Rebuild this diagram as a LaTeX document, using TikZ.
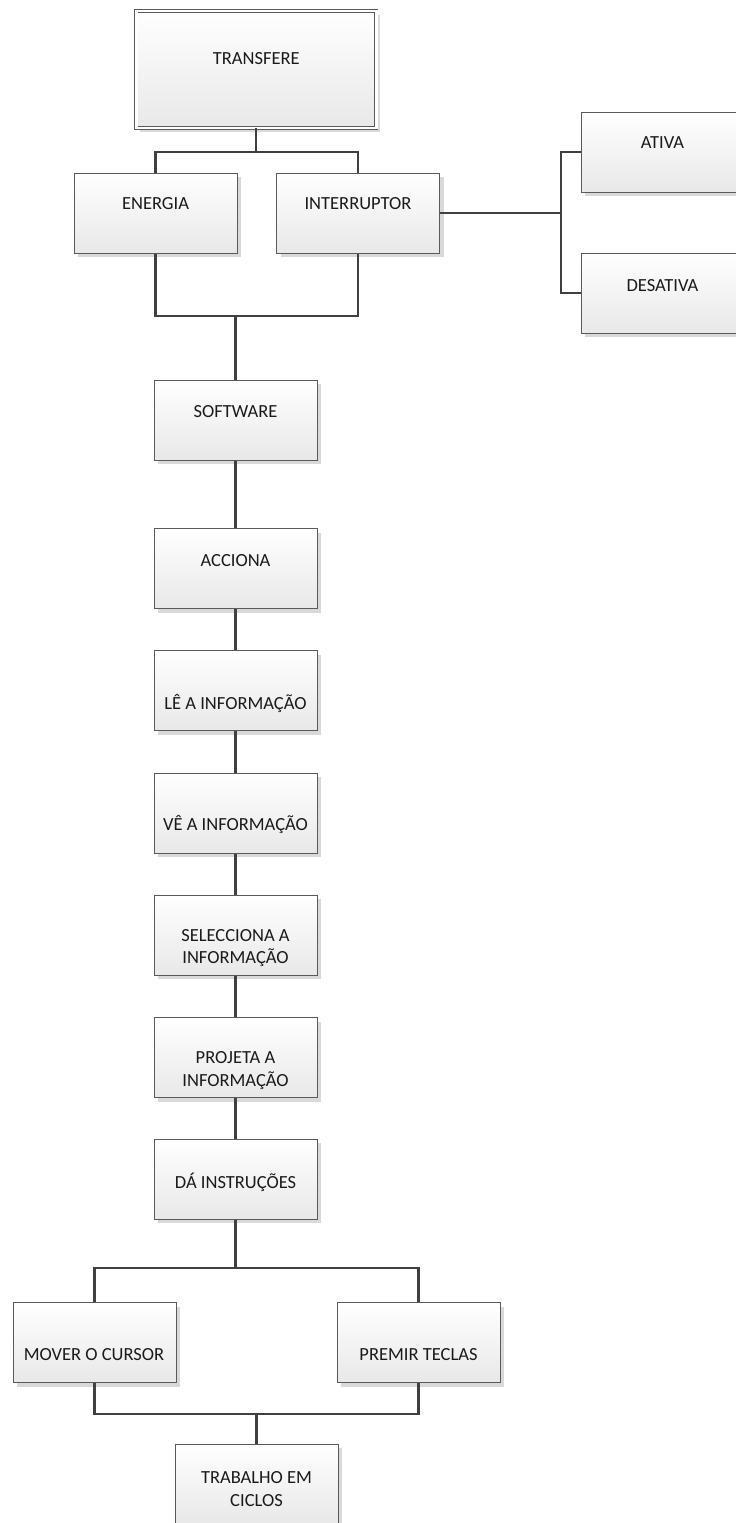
\documentclass[tikz,border=0pt]{standalone}
\usepackage{fontspec}
\setmainfont{Carlito}
\usetikzlibrary{shadows}
\definecolor{edgec}{HTML}{5A5A5A}
\definecolor{connc}{HTML}{404040}
\definecolor{txtc}{HTML}{1A1A1A}
\begin{document}
\begin{tikzpicture}[x=1pt,y=-1pt,
  box/.style={rectangle, draw=edgec, line width=1pt, top color=white, bottom color=black!9,
    minimum width=163pt, minimum height=80pt, inner sep=0pt,
    general shadow={fill=black!15, shadow xshift=4pt, shadow yshift=-4pt}},
  lbl/.style={font=\fontsize{18.5}{22.5}\selectfont, text=txtc, inner sep=0pt, text height=12pt, text depth=0pt},
  lbltwo/.style={font=\fontsize{18.5}{22.5}\selectfont, text=txtc, inner sep=0pt, align=center},
  conn/.style={draw=connc, line width=2.2pt}]
\useasboundingbox (0,0) rectangle (736,1523);
\clip (0,0) rectangle (736,1523);
\fill[white] (0,0) rectangle (736,1523);

% boxes
\node (transfere) [box, minimum width=240pt, minimum height=117pt, double, double distance=2.4pt, line width=0.9pt] at (256.3,69.5) {};
\node (energia) [box] at (155.5,213) {};
\node (interruptor) [box] at (358,213) {};
\node (ativa) [box] at (662.5,152) {};
\node (desativa) [box] at (662.5,293) {};
\node (software) [box] at (235.5,420) {};
\node (acciona) [box] at (235.5,568.5) {};
\node (le) [box] at (235.5,690.5) {};
\node (ve) [box] at (235.5,813) {};
\node (sel) [box] at (235.5,935) {};
\node (proj) [box] at (235.5,1057.5) {};
\node (da) [box] at (235.5,1179) {};
\node (mover) [box] at (94.5,1342.5) {};
\node (premir) [box] at (418.5,1342.5) {};
\node (trab) [box] at (256.5,1484) {};

% labels
\node (transfere-t) [lbl] at (256.3,58) {TRANSFERE};
\node (energia-t) [lbl] at (155.5,203) {ENERGIA};
\node (interruptor-t) [lbl] at (358,203) {INTERRUPTOR};
\node (ativa-t) [lbl] at (662.5,142) {ATIVA};
\node (desativa-t) [lbl] at (662.5,285) {DESATIVA};
\node (software-t) [lbl] at (235.5,411) {SOFTWARE};
\node (acciona-t) [lbl] at (235.5,560) {ACCIONA};
\node (le-t) [lbl] at (235.5,703) {LÊ A INFORMAÇÃO};
\node (ve-t) [lbl] at (235.5,824) {VÊ A INFORMAÇÃO};
\node (sel-t) [lbltwo] at (235.5,948) {SELECCIONA A\\INFORMAÇÃO};
\node (proj-t) [lbltwo] at (235.5,1070.5) {PROJETA A\\INFORMAÇÃO};
\node (da-t) [lbl] at (235.5,1182) {DÁ INSTRUÇÕES};
\node (mover-t) [lbl] at (94,1354) {MOVER O CURSOR};
\node (premir-t) [lbl] at (418.5,1354) {PREMIR TECLAS};
\node (trab-t) [lbltwo] at (256.5,1489) {TRABALHO EM\\CICLOS};

% junctions
\coordinate (j1) at (256.3,152);
\coordinate (j2) at (561,213);
\coordinate (j3) at (235.5,316);
\coordinate (j4) at (235.5,1268);
\coordinate (j5) at (256.5,1414);

% connectors
\draw[conn] (transfere.south) -- (j1);
\draw[conn] (energia.north) |- (j1) -| (interruptor.north);
\draw[conn] (interruptor.east) -- (j2);
\draw[conn] (ativa.west) -| (j2) |- (desativa.west);
\draw[conn] (energia.south) |- (j3) -| (interruptor.south);
\draw[conn] (j3) -- (software.north);
\draw[conn] (software.south) -- (acciona.north);
\draw[conn] (acciona.south) -- (le.north);
\draw[conn] (le.south) -- (ve.north);
\draw[conn] (ve.south) -- (sel.north);
\draw[conn] (sel.south) -- (proj.north);
\draw[conn] (proj.south) -- (da.north);
\draw[conn] (da.south) -- (j4);
\draw[conn] (mover.north) |- (j4) -| (premir.north);
\draw[conn] (mover.south) |- (j5) -| (premir.south);
\draw[conn] (j5) -- (trab.north);
\end{tikzpicture}
\end{document}
